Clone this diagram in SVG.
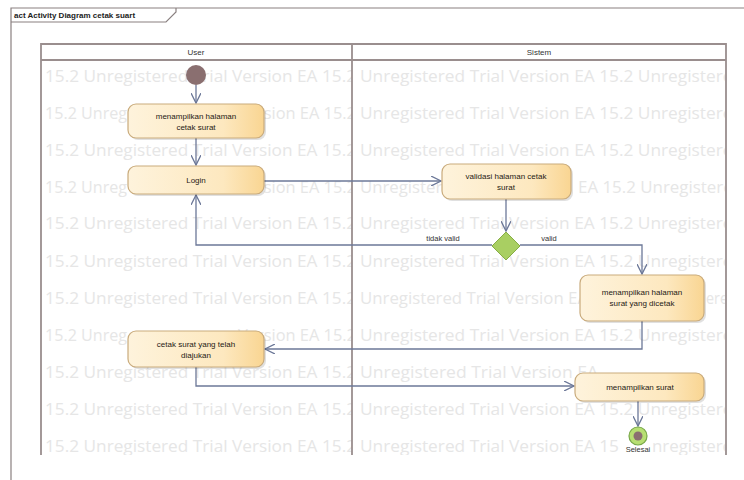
<svg xmlns="http://www.w3.org/2000/svg" width="744" height="480" viewBox="0 0 744 480">
<style>
.frame{fill:none;stroke:#8a8080;stroke-width:1.2}
.lane{fill:none;stroke:#9a8e8e;stroke-width:1.8}
.wm{font-family:"Open Sans","Noto Sans",sans-serif;font-size:16px;fill:#e6e6e6}
.node{fill:url(#ng);stroke:#c9ab7c;stroke-width:1.2}
.shadow{fill:#000;opacity:0.12}
.nt{font-family:"Liberation Sans",Arial,sans-serif;font-size:8px;fill:#1e1a14;text-anchor:middle}
.hd{font-family:"Liberation Sans",Arial,sans-serif;font-size:8px;fill:#333;text-anchor:middle}
.lbl{font-family:"Liberation Sans",Arial,sans-serif;font-size:7.5px;fill:#333;text-anchor:middle}
.edge{fill:none;stroke:#6c7898;stroke-width:1.3;marker-end:url(#arr)}
</style>
<defs>
<linearGradient id="ng" x1="0" y1="0" x2="1" y2="0">
<stop offset="0" stop-color="#fef3dc"/>
<stop offset="0.7" stop-color="#fde8bf"/>
<stop offset="1" stop-color="#f9d592"/>
</linearGradient>
<marker id="arr" markerWidth="12" markerHeight="10" refX="10" refY="5" orient="auto" markerUnits="userSpaceOnUse">
<path d="M0,0 L10,5 L0,10" fill="none" stroke="#6c7898" stroke-width="1.3"/>
</marker>
<clipPath id="c1"><rect x="42" y="61" width="310" height="394"/></clipPath>
<clipPath id="c2"><rect x="353" y="61" width="372" height="394"/></clipPath>
</defs>
<rect width="744" height="480" fill="#fff"/>
<!-- frame -->
<path class="frame" d="M11,480 V8 H744"/>
<path class="frame" d="M11,22 H166 L176,12 V8"/>
<text x="14" y="18" font-family="Liberation Sans,Arial,sans-serif" font-size="8" font-weight="bold" fill="#222">act Activity Diagram cetak suart</text>
<!-- watermark -->
<g id="watermark">
<g clip-path="url(#c1)">
<text class="wm" x="45" y="82" textLength="311" lengthAdjust="spacingAndGlyphs">15.2 Unregistered Trial Version EA 15.2</text>
<text class="wm" x="45" y="119" textLength="82" lengthAdjust="spacingAndGlyphs">15.2 Unreg</text>
<text class="wm" x="238" y="119" textLength="118" lengthAdjust="spacingAndGlyphs">Version EA 15.2</text>
<text class="wm" x="45" y="156" textLength="311" lengthAdjust="spacingAndGlyphs">15.2 Unregistered Trial Version EA 15.2</text>
<text class="wm" x="45" y="193" textLength="82" lengthAdjust="spacingAndGlyphs">15.2 Unreg</text>
<text class="wm" x="238" y="193" textLength="118" lengthAdjust="spacingAndGlyphs">Version EA 15.2</text>
<text class="wm" x="45" y="229" textLength="311" lengthAdjust="spacingAndGlyphs">15.2 Unregistered Trial Version EA 15.2</text>
<text class="wm" x="45" y="267" textLength="311" lengthAdjust="spacingAndGlyphs">15.2 Unregistered Trial Version EA 15.2</text>
<text class="wm" x="45" y="304" textLength="311" lengthAdjust="spacingAndGlyphs">15.2 Unregistered Trial Version EA 15.2</text>
<text class="wm" x="45" y="341" textLength="82" lengthAdjust="spacingAndGlyphs">15.2 Unreg</text>
<text class="wm" x="238" y="341" textLength="118" lengthAdjust="spacingAndGlyphs">Version EA 15.2</text>
<text class="wm" x="45" y="378" textLength="311" lengthAdjust="spacingAndGlyphs">15.2 Unregistered Trial Version EA 15.2</text>
<text class="wm" x="45" y="415" textLength="311" lengthAdjust="spacingAndGlyphs">15.2 Unregistered Trial Version EA 15.2</text>
<text class="wm" x="45" y="452" textLength="311" lengthAdjust="spacingAndGlyphs">15.2 Unregistered Trial Version EA 15.2</text>
</g>
<g clip-path="url(#c2)">
<text class="wm" x="360" y="82" textLength="383" lengthAdjust="spacingAndGlyphs">Unregistered Trial Version EA 15.2 Unregistered</text>
<text class="wm" x="360" y="119" textLength="383" lengthAdjust="spacingAndGlyphs">Unregistered Trial Version EA 15.2 Unregistered</text>
<text class="wm" x="360" y="156" textLength="383" lengthAdjust="spacingAndGlyphs">Unregistered Trial Version EA 15.2 Unregistered</text>
<text class="wm" x="360" y="193" textLength="102" lengthAdjust="spacingAndGlyphs">Unregistered</text>
<text class="wm" x="578" y="193" textLength="165" lengthAdjust="spacingAndGlyphs">EA 15.2 Unregistered</text>
<text class="wm" x="360" y="229" textLength="383" lengthAdjust="spacingAndGlyphs">Unregistered Trial Version EA 15.2 Unregistered</text>
<text class="wm" x="360" y="267" textLength="383" lengthAdjust="spacingAndGlyphs">Unregistered Trial Version EA 15.2 Unregistered</text>
<text class="wm" x="360" y="304" textLength="228" lengthAdjust="spacingAndGlyphs">Unregistered Trial Version EA</text>
<text class="wm" x="706" y="304" textLength="22" lengthAdjust="spacingAndGlyphs">ere</text>
<text class="wm" x="360" y="341" textLength="383" lengthAdjust="spacingAndGlyphs">Unregistered Trial Version EA 15.2 Unregistered</text>
<text class="wm" x="360" y="378" textLength="238" lengthAdjust="spacingAndGlyphs">Unregistered Trial Version EA</text>
<text class="wm" x="360" y="415" textLength="383" lengthAdjust="spacingAndGlyphs">Unregistered Trial Version EA 15.2 Unregistered</text>
<text class="wm" x="360" y="452" textLength="259" lengthAdjust="spacingAndGlyphs">Unregistered Trial Version EA 15</text>
<text class="wm" x="652" y="452" textLength="80" lengthAdjust="spacingAndGlyphs">nregistere</text>
</g>
</g>
<!-- swimlanes -->
<g id="lanes">
<path class="lane" d="M41,455 V44 H726 V455 M41,60 H726 M352,44 V455"/>
<text class="hd" x="196" y="55">User</text>
<text class="hd" x="539" y="55">Sistem</text>
</g>
<!-- connectors -->
<g id="connectors">
<path class="edge" d="M196,85 V103"/>
<path class="edge" d="M196,138 V165"/>
<path class="edge" d="M264,181 H441"/>
<path class="edge" d="M506,199 V231"/>
<path class="edge" d="M492,245 H196 V195"/>
<path class="edge" d="M520,245 H642 V274"/>
<path class="edge" d="M642,321 V349 H265"/>
<path class="edge" d="M196,367 V386 H574"/>
<path class="edge" d="M638,401 V426"/>
<text class="lbl" x="443" y="241">tidak valid</text>
<text class="lbl" x="549" y="241">valid</text>
</g>
<!-- nodes -->
<g id="start"><circle cx="196" cy="75" r="10" fill="#8a6f70"/></g>
<g id="n1">
<rect class="shadow" x="130" y="106" width="136" height="34" rx="8"/>
<rect class="node" x="128" y="104" width="136" height="34" rx="8"/>
<text class="nt" x="196" y="119">menampilkan halaman</text>
<text class="nt" x="196" y="130">cetak surat</text>
</g>
<g id="n2">
<rect class="shadow" x="130" y="168" width="136" height="28" rx="8"/>
<rect class="node" x="128" y="166" width="136" height="28" rx="8"/>
<text class="nt" x="196" y="183">Login</text>
</g>
<g id="n3">
<rect class="shadow" x="444" y="166" width="129" height="35" rx="8"/>
<rect class="node" x="442" y="164" width="129" height="35" rx="8"/>
<text class="nt" x="506" y="179">validasi halaman cetak</text>
<text class="nt" x="506" y="190">surat</text>
</g>
<g id="decision">
<path d="M506,232 L520,246 L506,260 L492,246 Z" fill="#a9cf62" stroke="#86ad45" stroke-width="1"/>
</g>
<g id="n4">
<rect class="shadow" x="582" y="277" width="124" height="46" rx="8"/>
<rect class="node" x="580" y="275" width="124" height="46" rx="8"/>
<text class="nt" x="642" y="295">menampilkan halaman</text>
<text class="nt" x="642" y="306">surat yang dicetak</text>
</g>
<g id="n5">
<rect class="shadow" x="130" y="333" width="136" height="36" rx="8"/>
<rect class="node" x="128" y="331" width="136" height="36" rx="8"/>
<text class="nt" x="196" y="347">cetak surat yang telah</text>
<text class="nt" x="196" y="358">diajukan</text>
</g>
<g id="n6">
<rect class="shadow" x="577" y="375" width="129" height="28" rx="8"/>
<rect class="node" x="575" y="373" width="129" height="28" rx="8"/>
<text class="nt" x="640" y="390">menampilkan surat</text>
</g>
<g id="end">
<circle cx="638" cy="436" r="9" fill="#b7df72" stroke="#78a848" stroke-width="1.2"/>
<circle cx="638" cy="436" r="4.5" fill="#8a6f70"/>
<text class="lbl" x="638" y="452">Selesai</text>
</g>
</svg>
